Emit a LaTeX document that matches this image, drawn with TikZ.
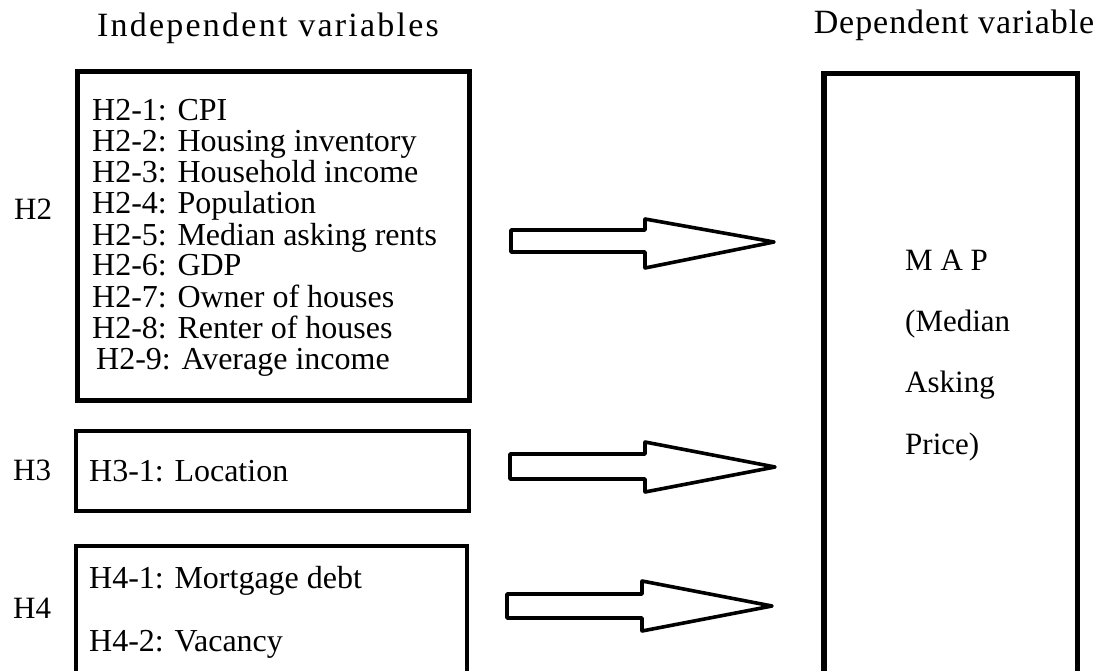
\documentclass[tikz,border=0pt]{standalone}
\usepackage{fontspec}
\setmainfont{Liberation Serif}
\begin{document}
\begin{tikzpicture}[x=1pt,y=-1pt,
  item/.style={anchor=base west, inner sep=0pt, font=\fontsize{32}{32}\selectfont},
  hlab/.style={anchor=base west, inner sep=0pt, font=\fontsize{31}{31}\selectfont},
  maptext/.style={anchor=base west, inner sep=0pt, font=\fontsize{31}{31}\selectfont},
  box/.style={draw, anchor=north west, inner sep=0pt, outer sep=0pt},
  blockarrow/.style={draw, line width=3.6pt, line join=round, fill=white}]
\useasboundingbox (0,0) rectangle (1103,671);
\clip (0,0) rectangle (1103,671);

% titles
\node[anchor=base, inner sep=0pt, font=\fontsize{34}{34}\selectfont\addfontfeature{LetterSpace=6.6}] (indep) at (268,37) {Independent variables};
\node[anchor=base, inner sep=0pt, font=\fontsize{34}{34}\selectfont\addfontfeature{LetterSpace=2.8}] (dep) at (954,34) {Dependent variable};

% boxes
\node[box, line width=5pt, minimum width=392pt, minimum height=329pt] (h2box) at (77.5,71.5) {};
\node[box, line width=4pt, minimum width=393pt, minimum height=80pt] (h3box) at (76,431) {};
\node[box, line width=4pt, minimum width=391pt, minimum height=160pt] (h4box) at (76,546) {};
\node[box, line width=5.5pt, minimum width=253.5pt, minimum height=640pt] (mapbox) at (823.75,73.75) {};

% hypothesis labels
\node[hlab] (h2) at (14,220) {H2};
\node[hlab] (h3) at (13,480) {H3};
\node[hlab] (h4) at (13,618) {H4};

% H2 items
\node[item] (h21) at (92,121) {H2-1: CPI};
\node[item] (h22) at (92,152) {H2-2: Housing inventory};
\node[item] (h23) at (92,183) {H2-3: Household income};
\node[item] (h24) at (92,214) {H2-4: Population};
\node[item] (h25) at (92,245) {H2-5: Median asking rents};
\node[item] (h26) at (92,276) {H2-6: GDP};
\node[item] (h27) at (92,307) {H2-7: Owner of houses};
\node[item] (h28) at (92,338) {H2-8: Renter of houses};
\node[item] (h29) at (96,369) {H2-9: Average income};

% H3, H4 items
\node[item] (h31) at (89,481) {H3-1: Location};
\node[item] (h41) at (89,588) {H4-1: Mortgage debt};
\node[item] (h42) at (89,651) {H4-2: Vacancy};

% MAP text
\node[maptext] (m1) at (905,270) {M A P};
\node[maptext] (m2) at (905,331) {(Median};
\node[maptext] (m3) at (905,392) {Asking};
\node[maptext] (m4) at (905,454) {Price)};

% block arrows
\draw[blockarrow] (511,230) -- (645,230) -- (645,219) -- (774,242) -- (645,268) -- (645,252) -- (511,252) -- cycle;
\draw[blockarrow] (510,454) -- (645,454) -- (645,442) -- (775,467) -- (645,492) -- (645,479) -- (510,479) -- cycle;
\draw[blockarrow] (507,594) -- (642,594) -- (642,581) -- (772,606) -- (642,631) -- (642,618) -- (507,618) -- cycle;
\end{tikzpicture}
\end{document}
